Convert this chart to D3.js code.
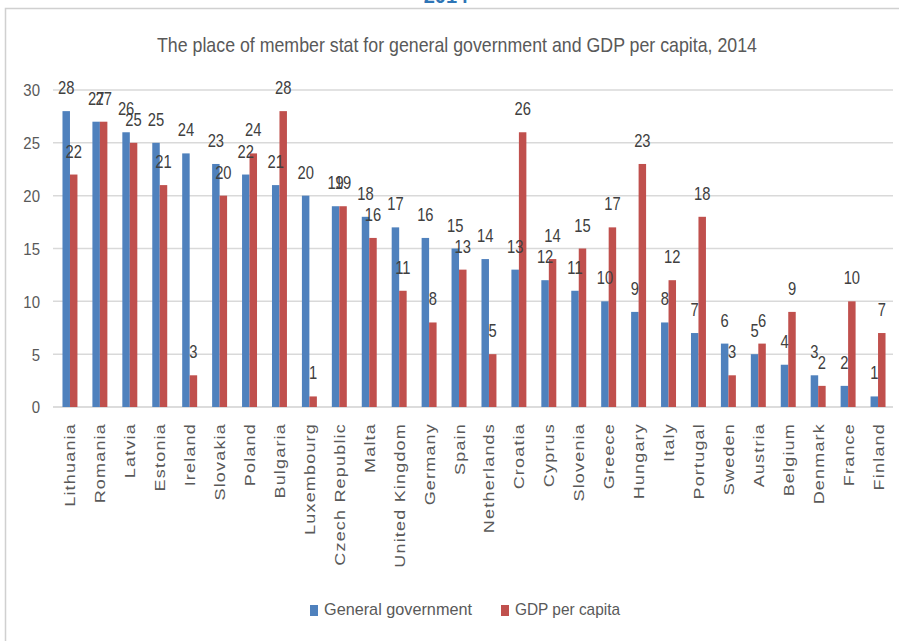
<!DOCTYPE html>
<html>
<head>
<meta charset="utf-8">
<script src="https://cdn.jsdelivr.net/npm/d3@7"></script>
<style>
html,body{margin:0;padding:0;background:#fff;}
svg{display:block;}
</style>
</head>
<body>
<svg id="chart" width="899" height="641"></svg>
<script>
const categories = ["Lithuania","Romania","Latvia","Estonia","Ireland","Slovakia","Poland","Bulgaria","Luxembourg","Czech Republic","Malta","United Kingdom","Germany","Spain","Netherlands","Croatia","Cyprus","Slovenia","Greece","Hungary","Italy","Portugal","Sweden","Austria","Belgium","Denmark","France","Finland"];
const generalGovernment = [28,27,26,25,24,23,22,21,20,19,18,17,16,15,14,13,12,11,10,9,8,7,6,5,4,3,2,1];
const gdpPerCapita = [22,27,25,21,3,20,24,28,1,19,16,11,8,13,5,26,14,15,17,23,12,18,3,6,9,2,10,7];
const seriesNames = ["General government","GDP per capita"];
const yTicks = [0,5,10,15,20,25,30];
const titleText = "The place of member stat for general government and GDP per capita, 2014";

const colors = ["#4f81bd","#c0504d"];
const svg = d3.select("#chart");
const sans = "'Liberation Sans',Arial,sans-serif";

// outer chart frame
svg.append("rect").attr("x",5.5).attr("y",8.5).attr("width",905).attr("height",650)
  .attr("fill","#fff").attr("stroke","#d0d0d0").attr("stroke-width",1.5);
svg.append("text").attr("x",446).attr("y",3).attr("text-anchor","middle")
  .attr("font-family",sans).attr("font-weight","bold")
  .attr("font-size",20).attr("fill","#2e75b6").text("2014");

// title
svg.append("text").attr("x",457).attr("y",52).attr("text-anchor","middle")
  .attr("font-family",sans).attr("font-size",21).attr("fill","#595959")
  .attr("textLength",600).attr("lengthAdjust","spacingAndGlyphs").text(titleText);

const x0 = d3.scaleBand().domain(categories).range([55,893]).paddingInner(0.5).paddingOuter(0.25);
const x1 = d3.scaleBand().domain(seriesNames).range([0,x0.bandwidth()]);
const y = d3.scaleLinear().domain([0,30]).range([407,90]);

// gridlines
svg.append("g").selectAll("line").data(yTicks).join("line")
  .attr("x1",53).attr("x2",893).attr("y1",d=>y(d)).attr("y2",d=>y(d))
  .attr("stroke",(d)=>d===0?"#d0d0d0":"#d9d9d9").attr("stroke-width",1.5);

// y axis
const yAxis = d3.axisLeft(y).tickValues(yTicks).tickSize(0).tickPadding(0);
const gy = svg.append("g").attr("transform","translate(40,0)").call(yAxis);
gy.select(".domain").remove();
gy.selectAll("text").attr("font-family",sans).attr("font-size",17).attr("fill","#595959")
  .attr("dy","0.35em").attr("transform","scale(0.88,1)");

// x axis labels
const xAxis = d3.axisBottom(x0).tickSize(0).tickPadding(0);
const gx = svg.append("g").attr("transform","translate(0,423)").call(xAxis);
gx.select(".domain").remove();
gx.selectAll("text")
  .attr("font-family",sans).attr("font-size",15).attr("letter-spacing","1px")
  .attr("fill","#595959")
  .attr("text-anchor","end").attr("dy",null).attr("y",0).attr("x",0)
  .attr("transform","rotate(-90) scale(1.2,1) translate(0,5.5)");

const data = [generalGovernment, gdpPerCapita];
const groups = svg.append("g").selectAll("g").data(seriesNames).join("g")
  .attr("fill",(d,i)=>colors[i]);
groups.selectAll("rect").data((s,i)=>categories.map((c,j)=>({c,v:data[i][j],s}))).join("rect")
  .attr("x",d=>x0(d.c)+x1(d.s)).attr("width",x1.bandwidth())
  .attr("y",d=>y(d.v)).attr("height",d=>y(0)-y(d.v));

const labels = svg.append("g").selectAll("g").data(seriesNames).join("g");
labels.selectAll("text").data((s,i)=>categories.map((c,j)=>({c,v:data[i][j],s}))).join("text")
  .attr("transform",d=>`translate(${x0(d.c)+x1(d.s)+x1.bandwidth()/2},${y(d.v)-17}) scale(0.82,1)`)
  .attr("text-anchor","middle").attr("font-family",sans).attr("font-size",18)
  .attr("fill","#404040").text(d=>d.v);

// legend
const legend = svg.append("g");
const legX = [310,501];
const legW = [148,105];
seriesNames.forEach((s,i)=>{
  legend.append("rect").attr("x",legX[i]).attr("y",605).attr("width",8).attr("height",11).attr("fill",colors[i]);
  legend.append("text").attr("x",legX[i]+14).attr("y",615).attr("font-family",sans)
    .attr("font-size",17).attr("fill","#595959")
    .attr("textLength",legW[i]).attr("lengthAdjust","spacingAndGlyphs").text(s);
});
</script>
</body>
</html>
